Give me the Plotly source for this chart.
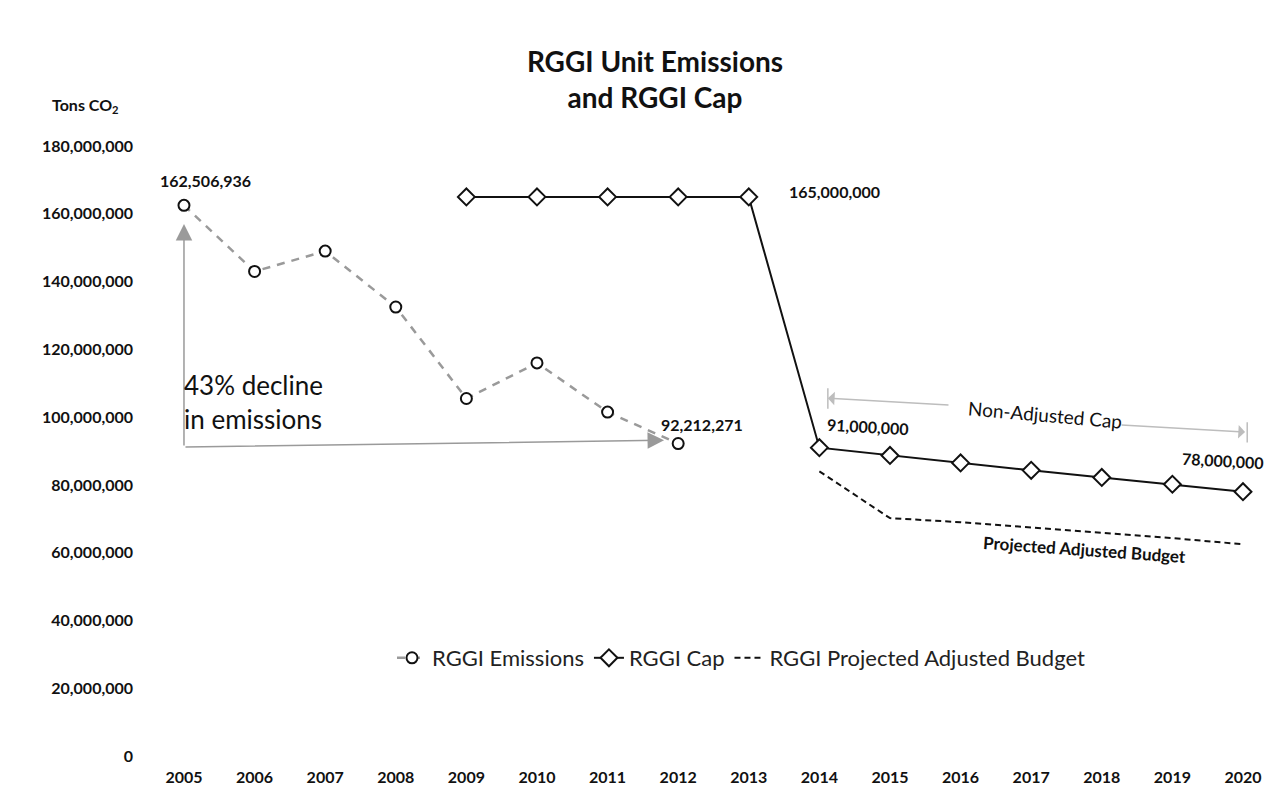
import plotly.graph_objects as go

years = list(range(2005, 2021))
emission_years = [2005, 2006, 2007, 2008, 2009, 2010, 2011, 2012]
emissions = [162506936, 143000000, 149000000, 132500000, 105500000, 116000000, 101500000, 92212271]
cap_years = [2009, 2010, 2011, 2012, 2013, 2014, 2015, 2016, 2017, 2018, 2019, 2020]
cap = [165000000, 165000000, 165000000, 165000000, 165000000, 91000000, 88700000, 86500000,
       84300000, 82200000, 80200000, 78000000]
adj_years = [2014, 2015, 2016, 2017, 2018, 2019, 2020]
adj_budget = [84000000, 70200000, 69000000, 67500000, 66000000, 64300000, 62500000]
y_ticks = [0, 20000000, 40000000, 60000000, 80000000, 100000000, 120000000, 140000000,
           160000000, 180000000]

FONT = "Lato"
W, H = 1288, 810
OFF = 8  # page body margin
ml, mr, mt, mb = 140 - OFF, 10 + OFF, 100 - OFF, 44 + OFF
pw, ph = W - ml - mr, H - mt - mb


def px(x):
    return (x - OFF - ml) / pw


def py(y):
    return (H - mb - (y - OFF)) / ph


fig = go.Figure()
fig.add_trace(go.Scatter(
    x=emission_years, y=emissions, name="RGGI Emissions", mode="lines+markers",
    line=dict(color="#9a9a9a", width=2.5, dash="8px,7px"),
    marker=dict(symbol="circle", size=11, color="white", line=dict(color="#111", width=2)),
))
fig.add_trace(go.Scatter(
    x=cap_years, y=cap, name="RGGI Cap", mode="lines+markers",
    line=dict(color="#111", width=2),
    marker=dict(symbol="diamond", size=13, color="white", line=dict(color="#111", width=2)),
))
fig.add_trace(go.Scatter(
    x=adj_years, y=adj_budget, name="RGGI Projected Adjusted Budget", mode="lines",
    line=dict(color="#111", width=2, dash="6px,4px"),
))

ann = []
lab = dict(font=dict(family=FONT, size=16, color="#111", weight="bold"), showarrow=False)
ann.append(dict(x=emission_years[0], y=emissions[0], text=f"{emissions[0]:,}", xshift=22, yshift=25, **lab))
ann.append(dict(x=emission_years[-1], y=emissions[-1], text=f"{emissions[-1]:,}", xshift=24, yshift=19, **lab))
ann.append(dict(x=2013, y=cap[4], text=f"{cap[4]:,}", xanchor="left", xshift=38, yshift=5, **lab))
ann.append(dict(x=2014, y=cap[5], text=f"{cap[5]:,}", xanchor="left", xshift=5, yshift=21, textangle=3, **lab))
ann.append(dict(x=2020, y=cap[-1], text=f"{cap[-1]:,}", xshift=-20, yshift=31, textangle=3, **lab))

# 43% decline arrows
ann.append(dict(x=2005, y=157000000, ax=2005, ay=91200000, xref="x", yref="y", axref="x", ayref="y",
                showarrow=True, arrowhead=2, arrowsize=2.2, arrowwidth=1.5, arrowcolor="#9a9a9a", text=""))
ann.append(dict(x=2011.8, y=93200000, ax=2005, ay=91200000, xref="x", yref="y", axref="x", ayref="y",
                showarrow=True, arrowhead=2, arrowsize=2.2, arrowwidth=1.5, arrowcolor="#9a9a9a", text=""))
ann.append(dict(x=2005.0, y=104400000, text="43% decline<br>in emissions", xanchor="left", yanchor="middle",
                xshift=-2, align="left", showarrow=False,
                font=dict(family=FONT, size=26, color="#111")))

# Non-Adjusted Cap arrows
ann.append(dict(x=2014.12, y=105600000, ax=2015.85, ay=103600000, xref="x", yref="y", axref="x", ayref="y",
                showarrow=True, arrowhead=1, arrowsize=1.5, arrowwidth=1.5, arrowcolor="#bdbdbd", text=""))
ann.append(dict(x=2020.03, y=95600000, ax=2018.26, ay=97700000, xref="x", yref="y", axref="x", ayref="y",
                showarrow=True, arrowhead=1, arrowsize=1.5, arrowwidth=1.5, arrowcolor="#bdbdbd", text=""))
ann.append(dict(x=2017.2, y=100900000, text="Non-Adjusted Cap", textangle=5, showarrow=False,
                font=dict(family=FONT, size=19, color="#111")))
ann.append(dict(x=2017.76, y=60800000, text="Projected Adjusted Budget", textangle=4, showarrow=False,
                font=dict(family=FONT, size=17, color="#111", weight="bold")))

# Axis title
ann.append(dict(x=px(85), y=py(105), xref="paper", yref="paper",
                text="Tons CO<sub>2</sub>", showarrow=False, xanchor="center", yanchor="middle",
                font=dict(family=FONT, size=16, color="#111", weight="bold")))

shapes = [
    dict(type="line", xref="x", yref="y", x0=2014.12, x1=2014.12, y0=102500000, y1=108500000,
         line=dict(color="#bdbdbd", width=1.5)),
    dict(type="line", xref="x", yref="y", x0=2020.06, x1=2020.06, y0=92500000, y1=98500000,
         line=dict(color="#bdbdbd", width=1.5)),
]

fig.update_layout(
    width=W, height=H,
    margin=dict(l=ml, r=mr, t=mt, b=mb, autoexpand=False),
    paper_bgcolor="white", plot_bgcolor="white",
    title=dict(text="RGGI Unit Emissions<br>and RGGI Cap", x=(655 - OFF) / W, xanchor="center",
               y=1 - 64 / H, yanchor="top",
               font=dict(family=FONT, size=28, color="#111", weight="bold")),
    xaxis=dict(range=[2004.377, 2020.496], tickvals=years, ticktext=[str(y) for y in years],
               showgrid=False, zeroline=False, showline=False, ticks="", automargin=False,
               tickfont=dict(family=FONT, size=16, color="#111", weight="bold")),
    yaxis=dict(range=[-2950000, 193600000], tickvals=y_ticks, tickformat=",d", automargin=False,
               showgrid=False, zeroline=False, showline=False, ticks="", ticklabelstandoff=6,
               tickfont=dict(family=FONT, size=16, color="#111", weight="bold")),
    legend=dict(orientation="h", x=px(392), y=py(658), xanchor="left", yanchor="middle",
                font=dict(family=FONT, size=22, color="#222"), bgcolor="rgba(0,0,0,0)",
                itemwidth=30),
    annotations=ann,
    shapes=shapes,
    showlegend=True,
)

fig.write_html("out.html")
